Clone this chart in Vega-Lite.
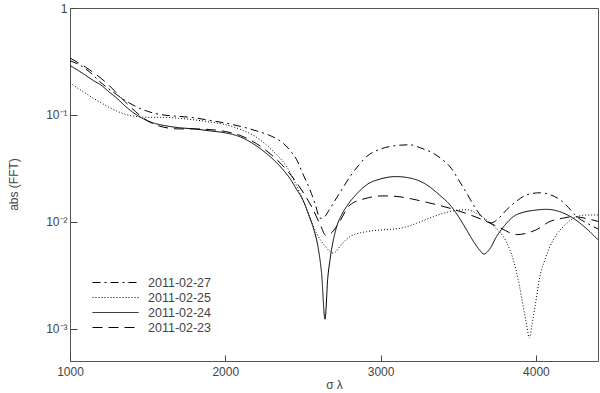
{
  "$schema": "https://vega.github.io/schema/vega-lite/v6.json",
  "autosize": {"type": "none"},
  "width": 528,
  "height": 353,
  "padding": {"left": 70, "top": 8, "right": 2, "bottom": 32},
  "background": "white",
  "config": {
    "view": {"stroke": "#555", "strokeWidth": 1},
    "font": "Liberation Sans",
    "legend": {
      "labelFont": "Liberation Sans", "labelFontSize": 12.5, "labelColor": "#444"
    }
  },
  "data": {"values": [
    {"date":"2011-02-24","x":1000,"v":0.29},{"date":"2011-02-24","x":1050,"v":0.262},{"date":"2011-02-24","x":1100,"v":0.235},{"date":"2011-02-24","x":1150,"v":0.21},{"date":"2011-02-24","x":1200,"v":0.19},{"date":"2011-02-24","x":1250,"v":0.165},{"date":"2011-02-24","x":1300,"v":0.144},{"date":"2011-02-24","x":1350,"v":0.123},{"date":"2011-02-24","x":1400,"v":0.107},{"date":"2011-02-24","x":1450,"v":0.096},{"date":"2011-02-24","x":1500,"v":0.088},{"date":"2011-02-24","x":1550,"v":0.083},{"date":"2011-02-24","x":1600,"v":0.08},{"date":"2011-02-24","x":1700,"v":0.076},{"date":"2011-02-24","x":1800,"v":0.074},{"date":"2011-02-24","x":1900,"v":0.071},{"date":"2011-02-24","x":2000,"v":0.068},{"date":"2011-02-24","x":2100,"v":0.062},{"date":"2011-02-24","x":2160,"v":0.056},{"date":"2011-02-24","x":2220,"v":0.049},{"date":"2011-02-24","x":2270,"v":0.043},{"date":"2011-02-24","x":2320,"v":0.037},{"date":"2011-02-24","x":2373,"v":0.0306},{"date":"2011-02-24","x":2420,"v":0.025},{"date":"2011-02-24","x":2460,"v":0.02},{"date":"2011-02-24","x":2500,"v":0.016},{"date":"2011-02-24","x":2545,"v":0.0108},{"date":"2011-02-24","x":2570,"v":0.0085},{"date":"2011-02-24","x":2600,"v":0.0055},{"date":"2011-02-24","x":2620,"v":0.0033},{"date":"2011-02-24","x":2642,"v":0.00123},{"date":"2011-02-24","x":2660,"v":0.003},{"date":"2011-02-24","x":2674,"v":0.0044},{"date":"2011-02-24","x":2700,"v":0.0072},{"date":"2011-02-24","x":2717,"v":0.009},{"date":"2011-02-24","x":2750,"v":0.0117},{"date":"2011-02-24","x":2781,"v":0.0139},{"date":"2011-02-24","x":2850,"v":0.0185},{"date":"2011-02-24","x":2910,"v":0.0222},{"date":"2011-02-24","x":3000,"v":0.0252},{"date":"2011-02-24","x":3100,"v":0.0265},{"date":"2011-02-24","x":3200,"v":0.0255},{"date":"2011-02-24","x":3297,"v":0.0222},{"date":"2011-02-24","x":3380,"v":0.0178},{"date":"2011-02-24","x":3447,"v":0.0144},{"date":"2011-02-24","x":3500,"v":0.0113},{"date":"2011-02-24","x":3554,"v":0.0084},{"date":"2011-02-24","x":3600,"v":0.0065},{"date":"2011-02-24","x":3640,"v":0.0054},{"date":"2011-02-24","x":3665,"v":0.005},{"date":"2011-02-24","x":3700,"v":0.0055},{"date":"2011-02-24","x":3747,"v":0.0073},{"date":"2011-02-24","x":3800,"v":0.0093},{"date":"2011-02-24","x":3855,"v":0.0112},{"date":"2011-02-24","x":3920,"v":0.0123},{"date":"2011-02-24","x":3983,"v":0.0128},{"date":"2011-02-24","x":4069,"v":0.0131},{"date":"2011-02-24","x":4150,"v":0.0125},{"date":"2011-02-24","x":4241,"v":0.0108},{"date":"2011-02-24","x":4320,"v":0.0088},{"date":"2011-02-24","x":4400,"v":0.0068},
    {"date":"2011-02-25","x":1000,"v":0.2},{"date":"2011-02-25","x":1050,"v":0.178},{"date":"2011-02-25","x":1100,"v":0.16},{"date":"2011-02-25","x":1150,"v":0.143},{"date":"2011-02-25","x":1200,"v":0.13},{"date":"2011-02-25","x":1250,"v":0.118},{"date":"2011-02-25","x":1300,"v":0.109},{"date":"2011-02-25","x":1350,"v":0.102},{"date":"2011-02-25","x":1400,"v":0.098},{"date":"2011-02-25","x":1450,"v":0.096},{"date":"2011-02-25","x":1500,"v":0.095},{"date":"2011-02-25","x":1600,"v":0.095},{"date":"2011-02-25","x":1700,"v":0.093},{"date":"2011-02-25","x":1800,"v":0.09},{"date":"2011-02-25","x":1900,"v":0.086},{"date":"2011-02-25","x":2000,"v":0.081},{"date":"2011-02-25","x":2100,"v":0.073},{"date":"2011-02-25","x":2200,"v":0.062},{"date":"2011-02-25","x":2300,"v":0.047},{"date":"2011-02-25","x":2400,"v":0.032},{"date":"2011-02-25","x":2481,"v":0.0185},{"date":"2011-02-25","x":2540,"v":0.0115},{"date":"2011-02-25","x":2588,"v":0.0078},{"date":"2011-02-25","x":2640,"v":0.006},{"date":"2011-02-25","x":2696,"v":0.0051},{"date":"2011-02-25","x":2750,"v":0.0062},{"date":"2011-02-25","x":2803,"v":0.0073},{"date":"2011-02-25","x":2910,"v":0.0081},{"date":"2011-02-25","x":3000,"v":0.0084},{"date":"2011-02-25","x":3125,"v":0.0087},{"date":"2011-02-25","x":3232,"v":0.0097},{"date":"2011-02-25","x":3340,"v":0.0112},{"date":"2011-02-25","x":3447,"v":0.0125},{"date":"2011-02-25","x":3554,"v":0.013},{"date":"2011-02-25","x":3620,"v":0.012},{"date":"2011-02-25","x":3683,"v":0.0104},{"date":"2011-02-25","x":3740,"v":0.0088},{"date":"2011-02-25","x":3790,"v":0.0073},{"date":"2011-02-25","x":3830,"v":0.0056},{"date":"2011-02-25","x":3855,"v":0.0044},{"date":"2011-02-25","x":3890,"v":0.0027},{"date":"2011-02-25","x":3919,"v":0.0016},{"date":"2011-02-25","x":3940,"v":0.0011},{"date":"2011-02-25","x":3958,"v":0.00082},{"date":"2011-02-25","x":3975,"v":0.0011},{"date":"2011-02-25","x":3994,"v":0.0016},{"date":"2011-02-25","x":4026,"v":0.0031},{"date":"2011-02-25","x":4060,"v":0.0045},{"date":"2011-02-25","x":4091,"v":0.0059},{"date":"2011-02-25","x":4130,"v":0.0075},{"date":"2011-02-25","x":4176,"v":0.009},{"date":"2011-02-25","x":4220,"v":0.0103},{"date":"2011-02-25","x":4263,"v":0.0112},{"date":"2011-02-25","x":4330,"v":0.0116},{"date":"2011-02-25","x":4400,"v":0.0116},
    {"date":"2011-02-27","x":1000,"v":0.32},{"date":"2011-02-27","x":1050,"v":0.3},{"date":"2011-02-27","x":1100,"v":0.27},{"date":"2011-02-27","x":1150,"v":0.235},{"date":"2011-02-27","x":1200,"v":0.2},{"date":"2011-02-27","x":1250,"v":0.175},{"date":"2011-02-27","x":1300,"v":0.155},{"date":"2011-02-27","x":1350,"v":0.138},{"date":"2011-02-27","x":1400,"v":0.125},{"date":"2011-02-27","x":1450,"v":0.115},{"date":"2011-02-27","x":1500,"v":0.108},{"date":"2011-02-27","x":1600,"v":0.1},{"date":"2011-02-27","x":1700,"v":0.097},{"date":"2011-02-27","x":1800,"v":0.094},{"date":"2011-02-27","x":1900,"v":0.089},{"date":"2011-02-27","x":2000,"v":0.084},{"date":"2011-02-27","x":2100,"v":0.078},{"date":"2011-02-27","x":2200,"v":0.071},{"date":"2011-02-27","x":2300,"v":0.063},{"date":"2011-02-27","x":2373,"v":0.0544},{"date":"2011-02-27","x":2420,"v":0.046},{"date":"2011-02-27","x":2460,"v":0.038},{"date":"2011-02-27","x":2500,"v":0.028},{"date":"2011-02-27","x":2545,"v":0.02},{"date":"2011-02-27","x":2580,"v":0.0145},{"date":"2011-02-27","x":2610,"v":0.0108},{"date":"2011-02-27","x":2640,"v":0.0112},{"date":"2011-02-27","x":2670,"v":0.013},{"date":"2011-02-27","x":2696,"v":0.015},{"date":"2011-02-27","x":2750,"v":0.02},{"date":"2011-02-27","x":2803,"v":0.0265},{"date":"2011-02-27","x":2860,"v":0.034},{"date":"2011-02-27","x":2910,"v":0.0408},{"date":"2011-02-27","x":3000,"v":0.048},{"date":"2011-02-27","x":3082,"v":0.0513},{"date":"2011-02-27","x":3189,"v":0.0526},{"date":"2011-02-27","x":3260,"v":0.049},{"date":"2011-02-27","x":3339,"v":0.0438},{"date":"2011-02-27","x":3400,"v":0.038},{"date":"2011-02-27","x":3447,"v":0.0328},{"date":"2011-02-27","x":3500,"v":0.025},{"date":"2011-02-27","x":3554,"v":0.0186},{"date":"2011-02-27","x":3610,"v":0.0135},{"date":"2011-02-27","x":3661,"v":0.0108},{"date":"2011-02-27","x":3715,"v":0.0098},{"date":"2011-02-27","x":3760,"v":0.0108},{"date":"2011-02-27","x":3812,"v":0.013},{"date":"2011-02-27","x":3880,"v":0.0158},{"date":"2011-02-27","x":3941,"v":0.0179},{"date":"2011-02-27","x":4026,"v":0.0187},{"date":"2011-02-27","x":4090,"v":0.018},{"date":"2011-02-27","x":4155,"v":0.0161},{"date":"2011-02-27","x":4210,"v":0.0136},{"date":"2011-02-27","x":4263,"v":0.0112},{"date":"2011-02-27","x":4330,"v":0.0097},{"date":"2011-02-27","x":4400,"v":0.0086},
    {"date":"2011-02-23","x":1000,"v":0.34},{"date":"2011-02-23","x":1050,"v":0.31},{"date":"2011-02-23","x":1100,"v":0.28},{"date":"2011-02-23","x":1150,"v":0.25},{"date":"2011-02-23","x":1200,"v":0.22},{"date":"2011-02-23","x":1250,"v":0.19},{"date":"2011-02-23","x":1300,"v":0.16},{"date":"2011-02-23","x":1350,"v":0.135},{"date":"2011-02-23","x":1400,"v":0.115},{"date":"2011-02-23","x":1450,"v":0.099},{"date":"2011-02-23","x":1500,"v":0.088},{"date":"2011-02-23","x":1550,"v":0.081},{"date":"2011-02-23","x":1600,"v":0.077},{"date":"2011-02-23","x":1700,"v":0.074},{"date":"2011-02-23","x":1800,"v":0.074},{"date":"2011-02-23","x":1900,"v":0.073},{"date":"2011-02-23","x":2000,"v":0.07},{"date":"2011-02-23","x":2100,"v":0.064},{"date":"2011-02-23","x":2200,"v":0.054},{"date":"2011-02-23","x":2300,"v":0.042},{"date":"2011-02-23","x":2400,"v":0.03},{"date":"2011-02-23","x":2500,"v":0.019},{"date":"2011-02-23","x":2560,"v":0.0135},{"date":"2011-02-23","x":2610,"v":0.0095},{"date":"2011-02-23","x":2650,"v":0.0074},{"date":"2011-02-23","x":2680,"v":0.0078},{"date":"2011-02-23","x":2720,"v":0.0092},{"date":"2011-02-23","x":2803,"v":0.0144},{"date":"2011-02-23","x":2900,"v":0.0165},{"date":"2011-02-23","x":3015,"v":0.0175},{"date":"2011-02-23","x":3100,"v":0.0173},{"date":"2011-02-23","x":3200,"v":0.0164},{"date":"2011-02-23","x":3300,"v":0.0152},{"date":"2011-02-23","x":3447,"v":0.0134},{"date":"2011-02-23","x":3550,"v":0.012},{"date":"2011-02-23","x":3661,"v":0.0104},{"date":"2011-02-23","x":3770,"v":0.0088},{"date":"2011-02-23","x":3876,"v":0.0076},{"date":"2011-02-23","x":3950,"v":0.0079},{"date":"2011-02-23","x":4000,"v":0.0084},{"date":"2011-02-23","x":4091,"v":0.0101},{"date":"2011-02-23","x":4170,"v":0.0108},{"date":"2011-02-23","x":4241,"v":0.0112},{"date":"2011-02-23","x":4320,"v":0.0108},{"date":"2011-02-23","x":4400,"v":0.0101}
  ]},
  "mark": {"type": "line", "color": "black", "strokeWidth": 1, "interpolate": "monotone"},
  "encoding": {
    "x": {"field": "x", "type": "quantitative", "scale": {"domain": [1000, 4400], "nice": false, "zero": false},
      "axis": {"orient": "bottom", "values": [1000, 2000, 3000, 4000], "format": "d", "offset": -6, "tickSize": 6, "tickColor": "#444", "tickWidth": 1,
        "domainOpacity": 0, "gridOpacity": 0, "labelFlush": false,
        "labelPadding": 5, "labelFont": "Liberation Sans", "labelFontSize": 12, "labelColor": "#444",
        "title": "σ λ", "titleY": 24, "titleBaseline": "top", "titleFont": "Liberation Sans", "titleFontSize": 12, "titleColor": "#444", "titleFontWeight": "normal"}},
    "y": {"field": "v", "type": "quantitative", "scale": {"type": "log", "domain": [0.0005, 1], "nice": false},
      "axis": {"orient": "left", "values": [1, 0.1, 0.01, 0.001], "offset": -7, "tickSize": 7, "tickColor": "#444", "tickWidth": 1,
        "domainOpacity": 0, "gridOpacity": 0, "labelFlush": false,
        "labelPadding": 3, "labelFont": "Liberation Sans", "labelFontSize": 12, "labelColor": "#444",
        "labelExpr": "datum.value >= 1 ? '1' : '10⁻' + (datum.value > 0.05 ? '¹' : datum.value > 0.005 ? '²' : '³')",
        "title": "abs (FFT)", "titleX": -64, "titleY": 176, "titleAlign": "center", "titleBaseline": "middle", "titleAngle": -90,
        "titleFont": "Liberation Sans", "titleFontSize": 12, "titleColor": "#444", "titleFontWeight": "normal"}},
    "strokeDash": {"field": "date", "type": "nominal",
      "scale": {"domain": ["2011-02-27", "2011-02-25", "2011-02-24", "2011-02-23"], "range": [[8, 4, 2, 4], [1, 2], [1, 0], [10, 6]]},
      "legend": {"orient": "none", "legendX": 37, "legendY": 266, "title": null, "symbolType": "M-2.875,0H2.875", "symbolSize": 256,
        "symbolStrokeColor": "black", "symbolStrokeWidth": 1, "symbolFillColor": "transparent", "rowPadding": 0, "labelOffset": 24}}
  }
}
